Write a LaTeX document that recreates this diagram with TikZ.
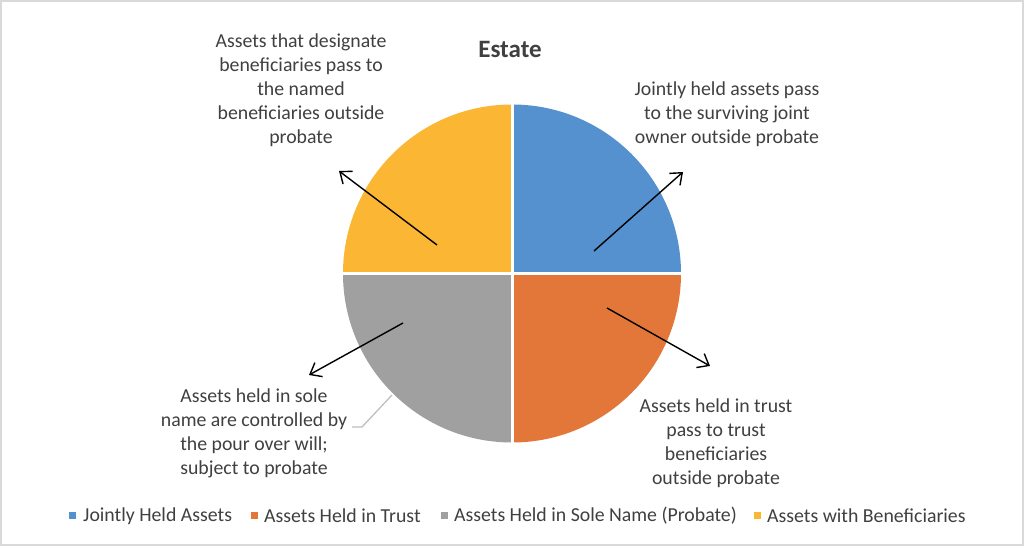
\documentclass[tikz,border=0pt]{standalone}
\usepackage{fontspec}
\setmainfont{Carlito}
\usetikzlibrary{arrows.meta,calc}
\definecolor{cblue}{HTML}{5591CE}
\definecolor{corange}{HTML}{E3773A}
\definecolor{cgray}{HTML}{A0A0A0}
\definecolor{cyellow}{HTML}{FBB733}
\definecolor{ctext}{HTML}{404040}
\definecolor{cframe}{HTML}{D9D9D9}
\definecolor{cleader}{HTML}{BFBFBF}
\tikzset{
  lbl/.style={text=ctext, align=center, font=\fontsize{19.8}{24}\selectfont, inner sep=0pt},
  legtxt/.style={text=ctext, anchor=west, font=\fontsize{19.8}{22}\selectfont, inner sep=0pt},
  legsq/.style={minimum size=7pt, inner sep=0pt, draw=none},
  callout/.style={line width=1.4pt, -{Straight Barb[length=10pt,width=16pt,line width=1.4pt]}},
}
\begin{document}
\begin{tikzpicture}[x=1pt,y=1pt]
\useasboundingbox (0,0) rectangle (1024,546);
\fill[white] (0,0) rectangle (1024,546);
\draw[cframe, line width=1.2pt] (1,1) rectangle (1023,545);
% pie
\coordinate (c) at (512,272.5);
\fill[cblue] (c) -- ++(90:169) arc[start angle=90, end angle=0, radius=169] -- cycle;
\fill[corange] (c) -- ++(0:169) arc[start angle=0, end angle=-90, radius=169] -- cycle;
\fill[cgray] (c) -- ++(-90:169) arc[start angle=-90, end angle=-180, radius=169] -- cycle;
\fill[cyellow] (c) -- ++(180:169) arc[start angle=180, end angle=90, radius=169] -- cycle;
\draw[white, line width=3pt] ($(c)+(0,-171)$) -- ($(c)+(0,171)$);
\draw[white, line width=3pt] ($(c)+(-171,0)$) -- ($(c)+(171,0)$);
% title
\node[font=\fontsize{25}{28}\selectfont\bfseries, text=ctext] (title) at (510,497) {Estate};
% labels
\node[lbl] (tl) at (301,455.5) {Assets that designate\\beneficiaries pass to\\the named\\beneficiaries outside\\probate};
\node[lbl] (tr) at (727,432) {Jointly held assets pass\\to the surviving joint\\owner outside probate};
\node[lbl] (br) at (716,103) {Assets held in trust\\pass to trust\\beneficiaries\\outside probate};
\node[lbl] (bl) at (254,112.5) {Assets held in sole\\name are controlled by\\the pour over will;\\subject to probate};
% arrows
\coordinate (bs) at (594,295); \coordinate (be) at (683,374);
\coordinate (os) at (607,238); \coordinate (oe) at (710,180);
\coordinate (ys) at (437,301); \coordinate (ye) at (339,375);
\coordinate (gs) at (403,223); \coordinate (ge) at (309,171);
\draw[callout] (bs) -- (be);
\draw[callout] (os) -- (oe);
\draw[callout] (ys) -- (ye);
\draw[callout] (gs) -- (ge);
% leader
\coordinate (l1) at (392,151); \coordinate (l2) at (362,119); \coordinate (l3) at (352,119);
\draw[cleader, line width=1.3pt] (l1) -- (l2) -- (l3);
% legend
\node[legsq, fill=cblue] (s1) at (72,31) {};
\node[legtxt] (t1) at (83,30) {Jointly Held Assets};
\node[legsq, fill=corange] (s2) at (254,31) {};
\node[legtxt] (t2) at (264,30) {Assets Held in Trust};
\node[legsq, fill=cgray] (s3) at (444,31) {};
\node[legtxt] (t3) at (454,30) {Assets Held in Sole Name (Probate)};
\node[legsq, fill=cyellow] (s4) at (757,31) {};
\node[legtxt] (t4) at (767,30) {Assets with Beneficiaries};
\end{tikzpicture}
\end{document}
